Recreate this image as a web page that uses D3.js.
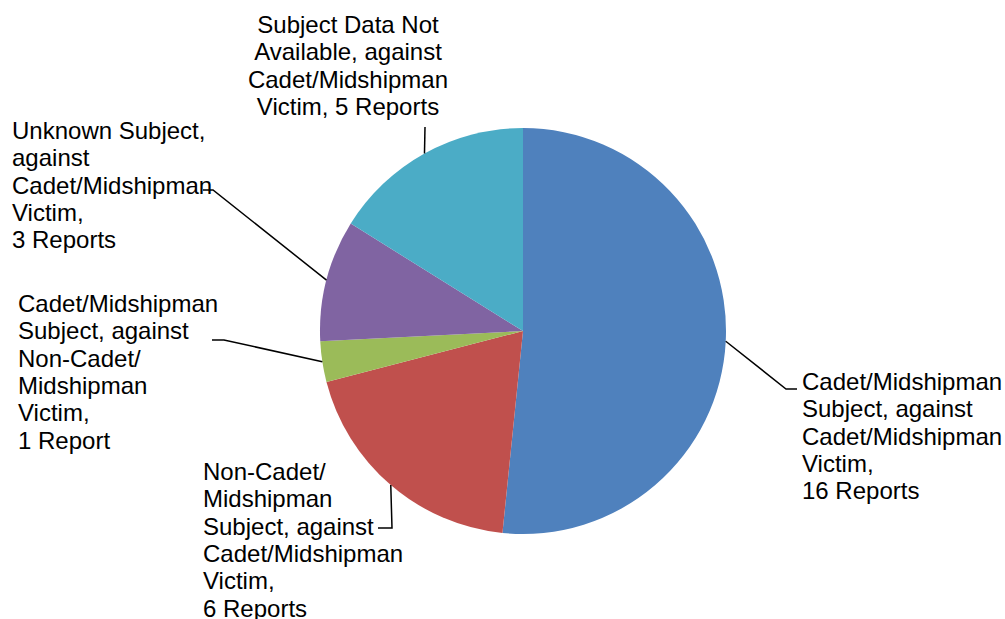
<!DOCTYPE html>
<html><head><meta charset="utf-8">
<script src="https://cdn.jsdelivr.net/npm/d3@7"></script>
<style>body{margin:0;background:#fff}svg{display:block}text{font-family:"Liberation Sans",Arial,sans-serif;font-size:24px;fill:#000}</style>
</head><body><svg id="c" width="1005" height="619"></svg>
<script>
const categories = [
  "Cadet/Midshipman Subject, against Cadet/Midshipman Victim",
  "Non-Cadet/Midshipman Subject, against Cadet/Midshipman Victim",
  "Cadet/Midshipman Subject, against Non-Cadet/Midshipman Victim",
  "Unknown Subject, against Cadet/Midshipman Victim",
  "Subject Data Not Available, against Cadet/Midshipman Victim"
];
const reports = [16, 6, 1, 3, 5];
const labelLines = [
  ["Cadet/Midshipman","Subject, against","Cadet/Midshipman","Victim,","16 Reports"],
  ["Non-Cadet/","Midshipman","Subject, against","Cadet/Midshipman","Victim,","6 Reports"],
  ["Cadet/Midshipman","Subject, against","Non-Cadet/","Midshipman","Victim,","1 Report"],
  ["Unknown Subject,","against","Cadet/Midshipman","Victim,","3 Reports"],
  ["Subject Data Not","Available, against","Cadet/Midshipman","Victim, 5 Reports"]
];
const colors = ["#4F81BD","#C0504D","#9BBB59","#8064A2","#4BACC6"];

// layout
const cx = 523, cy = 331, R = 203, lh = 27.3;
const labelPos = [
  {x:802, y:390, anchor:"start"},
  {x:203, y:480, anchor:"start"},
  {x:18,  y:312, anchor:"start"},
  {x:12,  y:139, anchor:"start"},
  {x:348, y:33,  anchor:"middle"}
];
const leader = [
  [[786,389],[797,389]],
  [[392,528],[378,528]],
  [[224,340],[212,340]],
  [[213,190],[203,190]],
  [[425,127]]
];

const svg = d3.select("#c");
const g = svg.append("g").attr("transform",`translate(${cx},${cy})`);
const pie = d3.pie().sort(null).value(d=>d)(reports);
const arc = d3.arc().innerRadius(0).outerRadius(R);
g.selectAll("path").data(pie).join("path")
  .attr("d",arc).attr("fill",(d,i)=>colors[i]);

pie.forEach((d,i)=>{
  const a = (d.startAngle+d.endAngle)/2;
  const p0 = [cx + R*Math.sin(a), cy - R*Math.cos(a)];
  const pts = [p0, ...leader[i]];
  svg.append("path").attr("d", d3.line()(pts))
    .attr("fill","none").attr("stroke","#000").attr("stroke-width",1.5);
  const t = svg.append("text").attr("text-anchor",labelPos[i].anchor);
  labelLines[i].forEach((s,j)=>{
    t.append("tspan").attr("x",labelPos[i].x).attr("y",labelPos[i].y + j*lh).text(s);
  });
});
</script></body></html>
